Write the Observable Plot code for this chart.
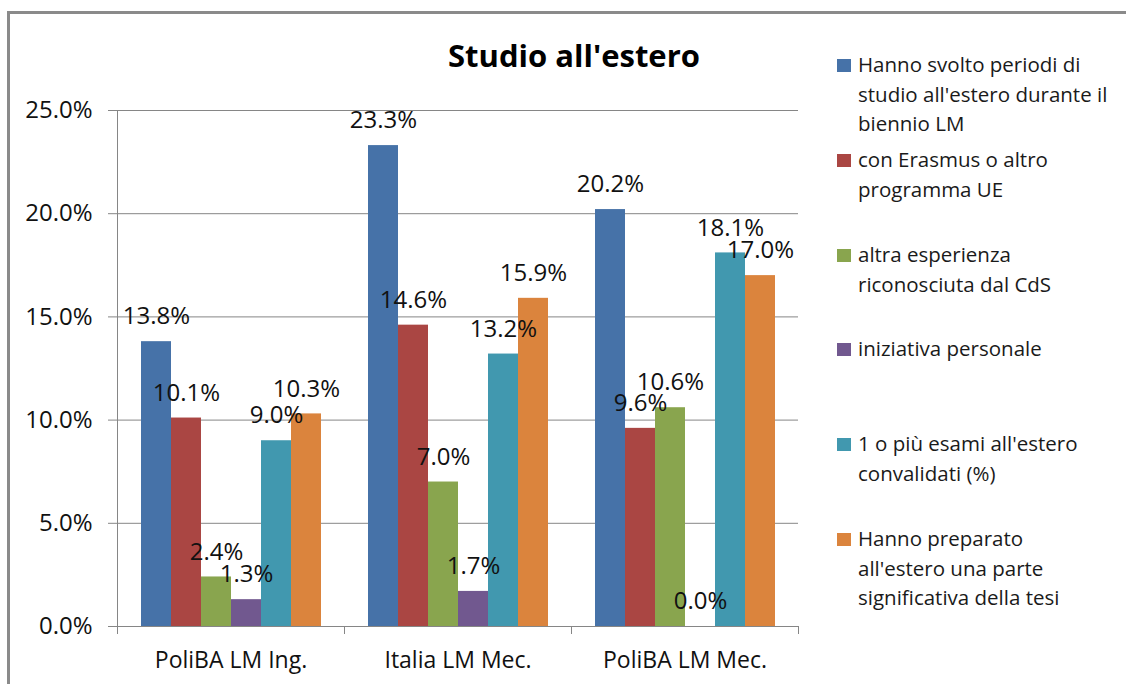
<!DOCTYPE html>
<html>
<head>
<meta charset="utf-8">
<script src="https://cdn.jsdelivr.net/npm/d3@7"></script>
<script src="https://cdn.jsdelivr.net/npm/@observablehq/plot@0.6"></script>
<style>
  body { margin: 0; background: #fff; }
  #wrap { position: relative; width: 1126px; height: 684px; overflow: hidden; font-family: "Open Sans", sans-serif; background: #fff; }
  #border { position: absolute; left: 7px; top: 11px; width: 1300px; height: 900px; border: 3px solid #8a8a8a; box-sizing: border-box; }
  #chart { position: absolute; left: 0; top: 0; }
  #title { position: absolute; left: 374px; width: 400px; top: 36px; text-align: center; font-weight: 700; font-size: 31px; line-height: 38px; color: #000; }
  .leg { position: absolute; left: 837px; }
  .leg .sw { position: absolute; left: 0; top: 9px; width: 14px; height: 13px; }
  .leg .tx { position: absolute; left: 21px; top: 0; white-space: nowrap; font-size: 20.5px; line-height: 29.5px; color: #1a1a1a; }
</style>
</head>
<body>
<div id="wrap">
  <div id="border"></div>
  <div id="chart"></div>
  <div id="title">Studio all'estero</div>
  <div id="legend"></div>
</div>
<script>
// ---- Data ----
const categories = ["PoliBA LM Ing.", "Italia LM Mec.", "PoliBA LM Mec."];
const seriesLines = [
  ["Hanno svolto periodi di", "studio all'estero durante il", "biennio LM"],
  ["con Erasmus o altro", "programma UE"],
  ["altra esperienza", "riconosciuta dal CdS"],
  ["iniziativa personale"],
  ["1 o più esami all'estero", "convalidati (%)"],
  ["Hanno preparato", "all'estero una parte", "significativa della tesi"]
];
const seriesColors = ["#4672A8", "#AA4643", "#89A54E", "#71588F", "#4198AF", "#DB843D"];
const valsPeriodi   = [13.8, 23.3, 20.2];
const valsErasmus   = [10.1, 14.6, 9.6];
const valsAltra     = [2.4, 7.0, 10.6];
const valsPersonale = [1.3, 1.7, 0.0];
const valsEsami     = [9.0, 13.2, 18.1];
const valsTesi      = [10.3, 15.9, 17.0];
const yTicks = [0, 0.05, 0.10, 0.15, 0.20, 0.25];

const seriesNames = seriesLines.map(l => l.join(" "));
const seriesValues = [valsPeriodi, valsErasmus, valsAltra, valsPersonale, valsEsami, valsTesi];
const data = [];
categories.forEach((c, ci) => {
  seriesNames.forEach((s, si) => {
    data.push({cat: c, series: s, value: seriesValues[si][ci] / 100});
  });
});

const fmt = d3.format(".1%");
const gridColor = "#868686";

const plot = Plot.plot({
  width: 1126,
  height: 684,
  marginLeft: 117,
  marginRight: 328,
  marginTop: 110,
  marginBottom: 58,
  style: { fontFamily: "Open Sans, sans-serif", background: "transparent", color: "#111" },
  fx: { domain: categories, padding: 0 },
  x: { domain: seriesNames, paddingInner: 0, paddingOuter: 0.78, axis: null },
  y: { domain: [0, 0.25] },
  color: { domain: seriesNames, range: seriesColors },
  marks: [
    Plot.gridY(yTicks, { stroke: gridColor, strokeOpacity: 1 }),
    Plot.axisY(yTicks, { tickFormat: fmt, tickSize: 9, tickPadding: 16, fontSize: 24, stroke: gridColor, fill: "#111", label: null }),
    Plot.axisFx({ anchor: "bottom", tickSize: 0, tickPadding: 25, fontSize: 23, fill: "#111", label: null }),
    Plot.barY(data, { fx: "cat", x: "series", y: "value", fill: "series" }),
    Plot.text(data, { fx: "cat", x: "series", y: "value", text: d => fmt(d.value), dy: -25, fontSize: 24, fill: "#111" })
  ]
});
document.getElementById("chart").appendChild(plot);

// Excel-style axis lines and category boundary ticks using Plot's scales
const fxS = plot.scale("fx");
const yS = plot.scale("y");
const svg = d3.select(plot);
const y0 = yS.apply(0);
const yTop = yS.apply(0.25);
const bw = fxS.bandwidth;
const edges = categories.map(c => fxS.apply(c)).concat([fxS.apply(categories[categories.length - 1]) + bw]);
const g = svg.append("g").attr("stroke", gridColor).attr("stroke-width", 1);
g.append("line").attr("x1", edges[0] + 0.5).attr("x2", edges[0] + 0.5).attr("y1", yTop).attr("y2", y0 + 8);
g.append("line").attr("x1", edges[0]).attr("x2", edges[edges.length - 1]).attr("y1", y0 + 0.5).attr("y2", y0 + 0.5);
edges.slice(1).forEach(x => {
  g.append("line").attr("x1", x + 0.5).attr("x2", x + 0.5).attr("y1", y0).attr("y2", y0 + 8);
});

// Legend
const legend = document.getElementById("legend");
const itemTops = [50, 145, 240, 334, 429, 524];
seriesLines.forEach((lines, i) => {
  const item = document.createElement("div");
  item.className = "leg";
  item.style.top = itemTops[i] + "px";
  const sw = document.createElement("div");
  sw.className = "sw";
  sw.style.background = seriesColors[i];
  const tx = document.createElement("div");
  tx.className = "tx";
  tx.innerHTML = lines.map(l => l.replace(/&/g, "&amp;").replace(/</g, "&lt;")).join("<br>");
  item.appendChild(sw);
  item.appendChild(tx);
  legend.appendChild(item);
});
</script>
</body>
</html>
